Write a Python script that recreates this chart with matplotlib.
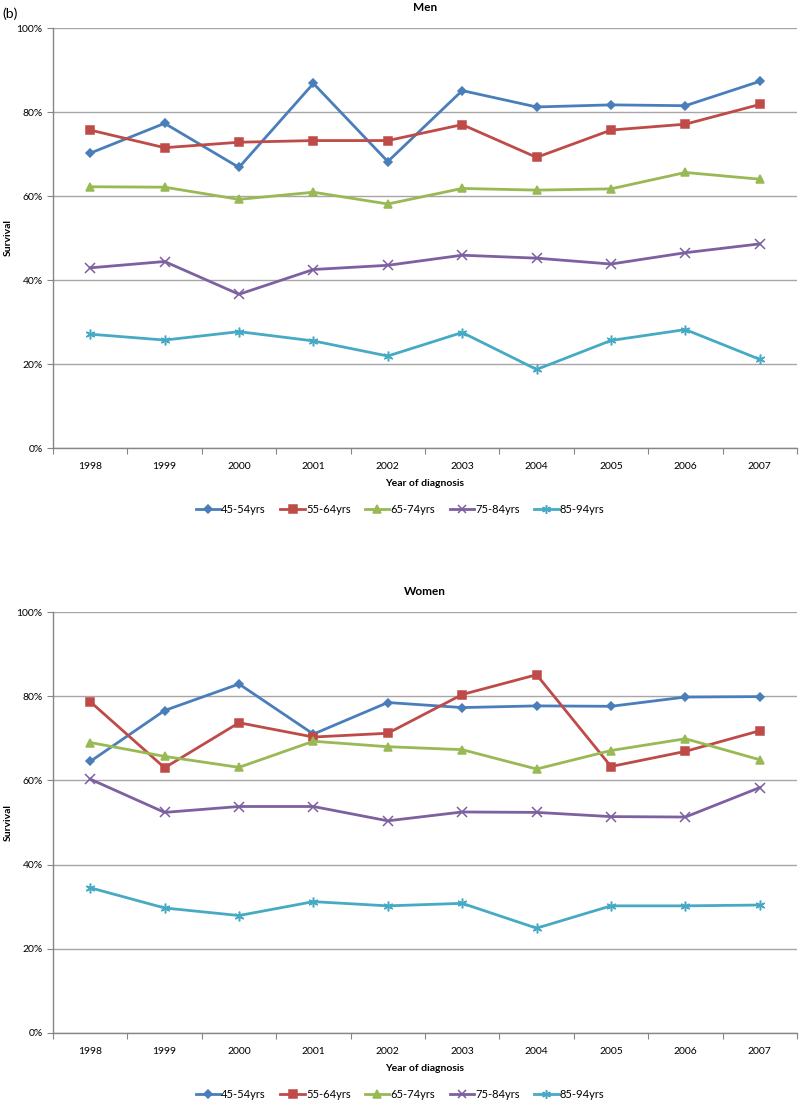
import numpy as np
import matplotlib
matplotlib.use('Agg')
import matplotlib.pyplot as plt
from matplotlib.ticker import FixedLocator, PercentFormatter

plt.rcParams['font.family'] = ['Lato', 'DejaVu Sans']

years = ['1998', '1999', '2000', '2001', '2002', '2003', '2004', '2005', '2006', '2007']
groups = ['45-54yrs', '55-64yrs', '65-74yrs', '75-84yrs', '85-94yrs']

# survival (%)
men_45_54 = [70.2, 77.3, 66.8, 86.8, 68.2, 85.1, 81.2, 81.7, 81.5, 87.3]
men_55_64 = [75.7, 71.5, 72.8, 73.2, 73.2, 77.0, 69.2, 75.7, 77.1, 81.8]
men_65_74 = [62.2, 62.1, 59.2, 60.9, 58.1, 61.8, 61.4, 61.7, 65.6, 64.0]
men_75_84 = [42.9, 44.4, 36.6, 42.5, 43.5, 45.9, 45.2, 43.8, 46.5, 48.6]
men_85_94 = [27.1, 25.7, 27.7, 25.5, 21.9, 27.5, 18.7, 25.6, 28.2, 21.1]

women_45_54 = [64.5, 76.6, 82.9, 71.0, 78.5, 77.3, 77.7, 77.6, 79.8, 79.9]
women_55_64 = [78.7, 63.0, 73.7, 70.3, 71.2, 80.4, 85.1, 63.3, 66.9, 71.8]
women_65_74 = [69.0, 65.7, 63.1, 69.3, 68.0, 67.3, 62.7, 67.1, 69.9, 64.9]
women_75_84 = [60.3, 52.4, 53.8, 53.8, 50.4, 52.5, 52.4, 51.4, 51.3, 58.3]
women_85_94 = [34.5, 29.7, 27.9, 31.2, 30.2, 30.8, 24.9, 30.2, 30.2, 30.4]

colors = ['#4A7EBB', '#BE4B48', '#98B954', '#7D60A0', '#46AAC5']
markers = ['D', 's', '^', 'x', (6, 2, 0)]
msizes = [4.5, 6, 6, 6.5, 7]

fig = plt.figure(figsize=(8, 11.02), dpi=100)
W, H = 800, 1102


def panel(top, bottom, title, series):
    ax = fig.add_axes([53 / W, 1 - bottom / H, 744 / W, (bottom - top) / H])
    x = np.arange(len(years))
    for vals, lab, c, m, ms in zip(series, groups, colors, markers, msizes):
        ax.plot(x, vals, color=c, lw=2, marker=m, ms=ms, mew=1.1,
                mfc=c, mec=c, label=lab)
    ax.set_xlim(-0.5, len(years) - 0.5)
    ax.set_ylim(0, 100)
    ax.set_yticks(np.arange(0, 101, 20))
    ax.yaxis.set_major_formatter(PercentFormatter(decimals=0))
    ax.set_xticks(x)
    ax.set_xticklabels(years)
    ax.xaxis.set_minor_locator(FixedLocator(np.arange(-0.5, len(years), 1)))
    ax.tick_params(axis='x', which='major', length=0, labelsize=7.5, pad=10)
    ax.tick_params(axis='x', which='minor', length=4, color='#868686', width=0.8)
    ax.tick_params(axis='y', length=4, color='#868686', width=0.8, labelsize=7.5)
    ax.grid(axis='y', color='#A6A6A6', lw=1)
    ax.set_axisbelow(True)
    for s in ['top', 'right']:
        ax.spines[s].set_visible(False)
    for s in ['left', 'bottom']:
        ax.spines[s].set_color('#868686')
        ax.spines[s].set_linewidth(1)
    ax.annotate(title, xy=(0.5, 1), xycoords='axes fraction', xytext=(0, 14.5),
                textcoords='offset points', ha='center', va='center',
                fontsize=8.5, fontweight='bold')
    ax.set_ylabel('Survival', fontsize=7.5, fontweight='bold')
    ax.yaxis.set_label_coords((13 - 53) / 744, 0.5)
    ax.set_xlabel('Year of diagnosis', fontsize=7.5, fontweight='bold', labelpad=6)
    ax.legend(loc='upper center', bbox_to_anchor=((400 - 53) / 744, -0.11), ncol=5,
              frameon=False, fontsize=8, handlelength=2.2, columnspacing=1.3,
              handletextpad=0.1, markerscale=0.9)
    return ax


panel(28, 448, 'Men', [men_45_54, men_55_64, men_65_74, men_75_84, men_85_94])
panel(612, 1033, 'Women', [women_45_54, women_55_64, women_65_74, women_75_84, women_85_94])

fig.text(2 / W, 1 - 14 / H, '(b)', fontsize=10, va='center', ha='left')

fig.savefig('out.png', dpi=100)
